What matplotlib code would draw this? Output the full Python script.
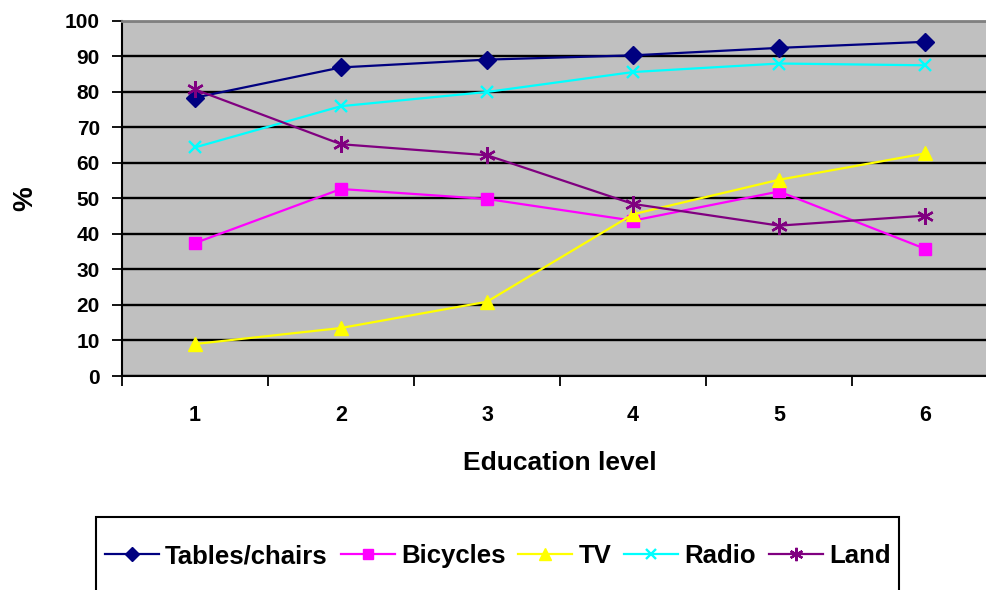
import matplotlib
matplotlib.use('Agg')
import matplotlib.pyplot as plt
from matplotlib.patches import Rectangle

plt.rcParams['font.family'] = ['Liberation Sans', 'DejaVu Sans']
plt.rcParams['font.weight'] = 'bold'

# Ownership by education level (%)
levels = [1, 2, 3, 4, 5, 6]
tables_chairs = [78.3, 86.8, 89.0, 90.2, 92.3, 94.0]
bicycles = [37.4, 52.6, 49.8, 43.7, 51.9, 35.8]
tv = [9.0, 13.5, 20.9, 45.5, 55.2, 62.6]
radio = [64.3, 75.9, 79.9, 85.5, 87.9, 87.4]
land = [80.6, 65.2, 62.1, 48.4, 42.3, 45.1]

series = [
    ('Tables/chairs', tables_chairs, '#000080', 'D', 9),
    ('Bicycles', bicycles, '#FF00FF', 's', 8.5),
    ('TV', tv, '#FFFF00', '^', 10),
    ('Radio', radio, '#00FFFF', 'x', 9),
    ('Land', land, '#800080', (6, 2, 0), 12),
]

W, H = 987, 590
fig = plt.figure(figsize=(W / 100, H / 100), dpi=100)
left, right, top, bottom = 122, 998, 20.5, 376
ax = fig.add_axes([left / W, 1 - bottom / H, (right - left) / W, (bottom - top) / H])
ax.set_facecolor('#C0C0C0')

for name, vals, col, mk, ms in series:
    thin = mk == 'x' or isinstance(mk, tuple)
    ax.plot(levels, vals, color=col, lw=1.6, marker=mk, markersize=ms,
            markeredgewidth=1.7 if thin else 1,
            markerfacecolor=col, markeredgecolor=col, label=name, zorder=3)

ax.set_xlim(0.5, 6.5)
ax.set_ylim(0, 100)
ax.set_yticks(range(0, 101, 10))
ax.yaxis.grid(True, color='black', lw=1.7, zorder=1)
ax.set_axisbelow(True)

ax.set_xticks(levels)
ax.set_xticks([0.5 + k for k in range(7)], minor=True)
ax.tick_params(axis='x', which='major', length=0, pad=21, labelsize=15.5)
ax.tick_params(axis='x', which='minor', length=7, width=1.3, direction='out')
ax.tick_params(axis='y', length=7, width=1.3, pad=9, labelsize=15)

for s in ('left', 'bottom'):
    ax.spines[s].set_linewidth(1.5)
    ax.spines[s].set_color('black')
ax.spines['top'].set_color('#808080')
ax.spines['top'].set_linewidth(2)
ax.spines['right'].set_visible(False)

ax.set_xlabel('Education level', fontsize=19, fontweight='bold', labelpad=18)
ax.set_ylabel('%', fontsize=20, fontweight='bold', labelpad=19)

# legend box runs off the bottom of the figure
box = Rectangle((96 / W, -0.2), (899 - 96) / W, 0.2 + 1 - 517 / H,
                transform=fig.transFigure, fill=False, lw=1.5, ec='black')
fig.patches.append(box)

fig.legend(loc='center', bbox_to_anchor=(498 / W, 1 - 556 / H), ncol=5,
           frameon=False, handlelength=2.1, handletextpad=0.25,
           columnspacing=0.5, markerscale=0.8,
           prop={'weight': 'bold', 'size': 18.5})

fig.savefig('out.png', dpi=100)
